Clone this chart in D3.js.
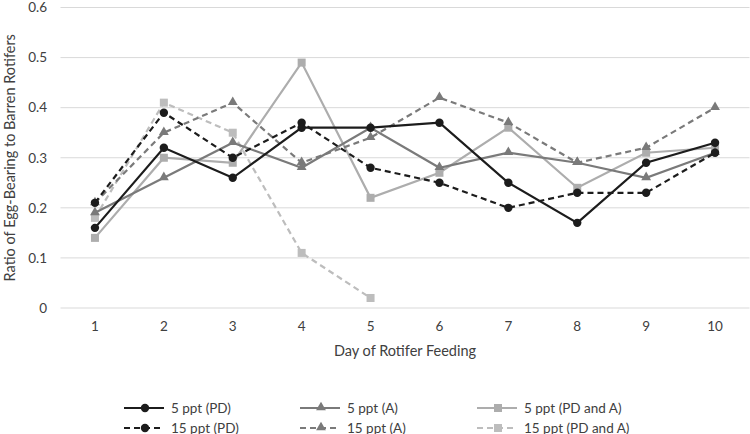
<!DOCTYPE html>
<html>
<head>
<meta charset="utf-8">
<script src="https://cdn.jsdelivr.net/npm/d3@7"></script>
<style>
  body { margin: 0; background: #fff; }
  text { font-family: Lato, "Open Sans", sans-serif; fill: #404040; }
</style>
</head>
<body>
<div id="chart"></div>
<script>
var days = [1, 2, 3, 4, 5, 6, 7, 8, 9, 10];
var yTicks = [0, 0.1, 0.2, 0.3, 0.4, 0.5, 0.6];

var pd5    = [0.16, 0.32, 0.26, 0.36, 0.36, 0.37, 0.25, 0.17, 0.29, 0.33];
var a5     = [0.19, 0.26, 0.33, 0.28, 0.36, 0.28, 0.31, 0.29, 0.26, 0.31];
var pda5   = [0.14, 0.30, 0.29, 0.49, 0.22, 0.27, 0.36, 0.24, 0.31, 0.32];
var pd15   = [0.21, 0.39, 0.30, 0.37, 0.28, 0.25, 0.20, 0.23, 0.23, 0.31];
var a15    = [0.21, 0.35, 0.41, 0.29, 0.34, 0.42, 0.37, 0.29, 0.32, 0.40];
var pda15  = [0.18, 0.41, 0.35, 0.11, 0.02];

var seriesNames = ["5 ppt (PD)", "5 ppt (A)", "5 ppt (PD and A)",
                   "15 ppt (PD)", "15 ppt (A)", "15 ppt (PD and A)"];

var series = [
  {name: seriesNames[0], values: pd5,   color: "#1c1c1c", dash: null,  shape: "circle"},
  {name: seriesNames[1], values: a5,    color: "#7a7a7a", dash: null,  shape: "triangle"},
  {name: seriesNames[2], values: pda5,  color: "#adadad", dash: null,  shape: "square"},
  {name: seriesNames[3], values: pd15,  color: "#1c1c1c", dash: "6,4", shape: "circle"},
  {name: seriesNames[4], values: a15,   color: "#7a7a7a", dash: "6,4", shape: "triangle"},
  {name: seriesNames[5], values: pda15, color: "#bdbdbd", dash: "6,4", shape: "square"}
];
// draw order like the original (light ones underneath)
var drawOrder = [5, 2, 4, 1, 3, 0];

var W = 750, H = 434;
var svg = d3.select("#chart").append("svg")
            .attr("width", W)
            .attr("height", H);

var x = d3.scaleBand()
          .domain(days)
          .range([60.5, 749.5]);
var y = d3.scaleLinear()
          .domain([0, 0.6])
          .range([308, 7.5]);

// grid
svg.append("g").selectAll("line")
   .data(yTicks)
   .enter().append("line")
   .attr("x1", x.range()[0])
   .attr("x2", x.range()[1])
   .attr("y1", function(d){ return y(d); })
   .attr("y2", function(d){ return y(d); })
   .style("stroke", "#d9d9d9")
   .style("stroke-width", 1);

// y tick labels
var yAxis = d3.axisLeft(y).tickValues(yTicks).tickSize(0).tickPadding(0)
              .tickFormat(function(d){ return d === 0 ? "0" : d3.format(".1f")(d); });
var gy = svg.append("g").attr("transform", "translate(47,0)").call(yAxis);
gy.select(".domain").remove();
gy.selectAll("text").style("font-size", "13.5px").style("font-family", null);

// x tick labels
var xAxis = d3.axisBottom(x).tickSize(0).tickPadding(0);
var gx = svg.append("g").attr("transform", "translate(0,321)").call(xAxis);
gx.select(".domain").remove();
gx.selectAll("text").style("font-size", "13.5px").style("font-family", null);

// axis titles
svg.append("text")
   .attr("x", 405)
   .attr("y", 356)
   .attr("text-anchor", "middle")
   .style("font-size", "14.5px")
   .text("Day of Rotifer Feeding");

svg.append("text")
   .attr("transform", "translate(15," + y(0.3) + ") rotate(-90)")
   .attr("text-anchor", "middle")
   .style("font-size", "14.5px")
   .text("Ratio of Egg-Bearing to Barren Rotifers");

var cx = function(i){ return x(days[i]) + x.bandwidth() / 2; };

var drawMarker = function(g, shape, color, px, py){
  if(shape === "circle"){
    g.append("circle").attr("cx", px).attr("cy", py).attr("r", 4.2)
     .style("fill", color);
  }else if(shape === "triangle"){
    g.append("path")
     .attr("d", d3.symbol().type(d3.symbolTriangle).size(42)())
     .attr("transform", "translate(" + px + "," + (py - 0.5) + ")")
     .style("fill", color);
  }else{
    g.append("rect").attr("x", px - 4).attr("y", py - 4)
     .attr("width", 8).attr("height", 8)
     .style("fill", color);
  }
};

var line = d3.line()
             .x(function(d, i){ return cx(i); })
             .y(function(d){ return y(d); });

drawOrder.forEach(function(k){
  var s = series[k];
  var g = svg.append("g");
  g.append("path")
   .attr("d", line(s.values))
   .style("fill", "none")
   .style("stroke", s.color)
   .style("stroke-width", 2.2)
   .style("stroke-dasharray", s.dash);
  for(var i = 0; i < s.values.length; i++){
    drawMarker(g, s.shape, s.color, cx(i), y(s.values[i]));
  }
});

// legend
var legCols = [124, 300, 477], legRows = [408, 428];
series.forEach(function(s, k){
  var lx = legCols[k % 3], ly = legRows[Math.floor(k / 3)];
  var g = svg.append("g");
  g.append("line")
   .attr("x1", lx).attr("x2", lx + 40)
   .attr("y1", ly).attr("y2", ly)
   .style("stroke", s.color)
   .style("stroke-width", 2.2)
   .style("stroke-dasharray", s.dash);
  drawMarker(g, s.shape, s.color, lx + 21, ly);
  g.append("text")
   .attr("x", lx + 47)
   .attr("y", ly + 4.5)
   .style("font-size", "13.5px")
   .text(s.name);
});
</script>
</body>
</html>
